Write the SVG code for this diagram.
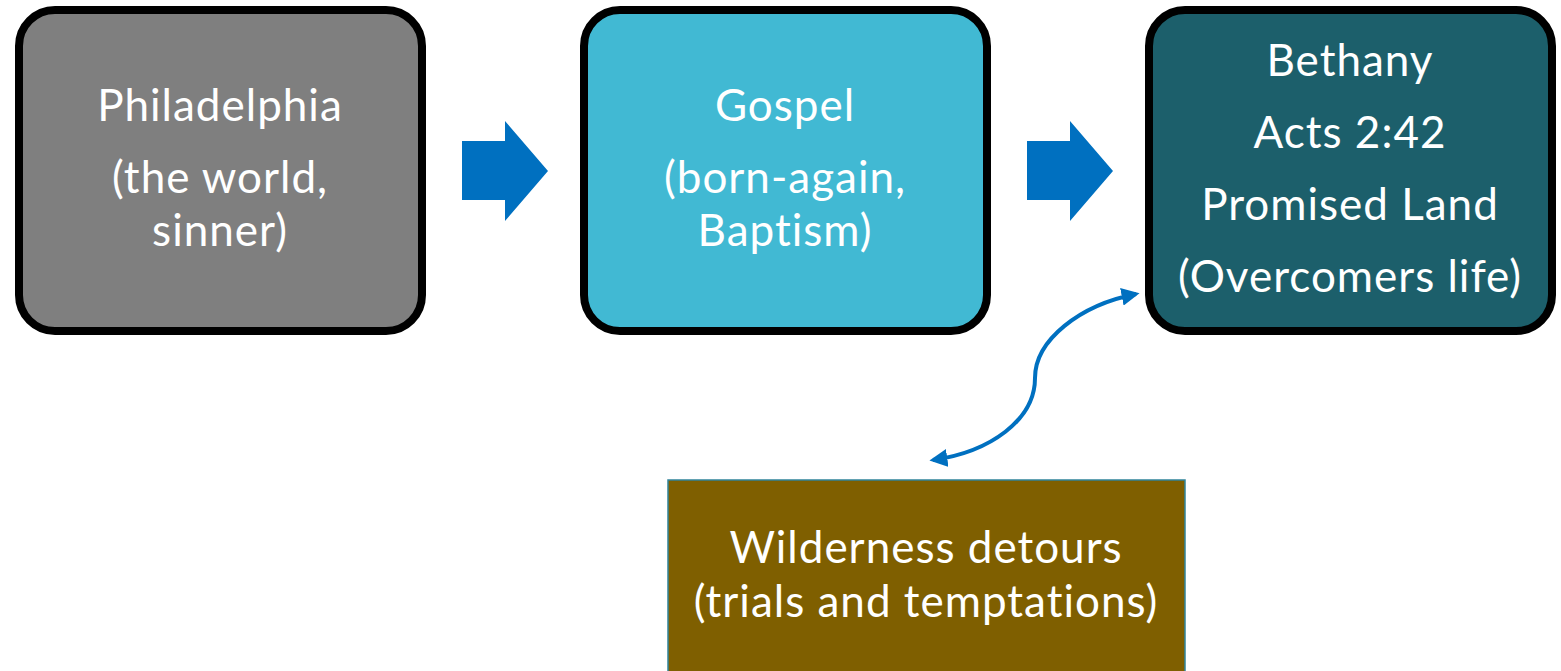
<svg xmlns="http://www.w3.org/2000/svg" width="1561" height="671" viewBox="0 0 1561 671">
<style>
.box{stroke:#000;stroke-width:8}
.t{font-family:Lato,"Open Sans",sans-serif;font-size:44px;letter-spacing:1px;fill:#fff;text-anchor:middle}
.fat{fill:#0070C0}
</style>
<defs>
<marker id="ah" viewBox="0 0 10 10" refX="8" refY="5" markerWidth="4.5" markerHeight="4.5" orient="auto-start-reverse" markerUnits="strokeWidth">
<path d="M0 0 L10 5 L0 10 Z" fill="#0070C0"/>
</marker>
</defs>
<rect width="1561" height="671" fill="#fff"/>
<g id="philadelphia">
<rect class="box" x="19" y="10" width="403" height="321" rx="36" fill="#7F7F7F"/>
<text class="t" x="220" y="121">Philadelphia</text>
<text class="t" x="220" y="193">(the world,</text>
<text class="t" x="220" y="246">sinner)</text>
</g>
<g id="gospel">
<rect class="box" x="584" y="10" width="403" height="321" rx="36" fill="#41B9D3"/>
<text class="t" x="785" y="121">Gospel</text>
<text class="t" x="785" y="193">(born-again,</text>
<text class="t" x="785" y="246">Baptism)</text>
</g>
<g id="bethany">
<rect class="box" x="1149" y="10" width="403" height="321" rx="36" fill="#1C5F6B"/>
<text class="t" x="1350" y="76">Bethany</text>
<text class="t" x="1350" y="148">Acts 2:42</text>
<text class="t" x="1350" y="220">Promised Land</text>
<text class="t" x="1350" y="292">(Overcomers life)</text>
</g>
<g id="wilderness">
<rect x="668" y="480" width="517" height="200" fill="#7F5F00" stroke="#31849B" stroke-width="1.5"/>
<text class="t" x="926" y="563">Wilderness detours</text>
<text class="t" x="926" y="617">(trials and temptations)</text>
</g>
<g id="connectors">
<polygon class="fat" points="462,141 505,141 505,121 548,171 505,221 505,200 462,200"/>
<polygon class="fat" points="1027,141 1070,141 1070,121 1113,171 1070,221 1070,200 1027,200"/>
<path d="M1136 294 C1080 305 1035 340 1035 378 C1035 420 990 452 933 460" fill="none" stroke="#0070C0" stroke-width="4" marker-start="url(#ah)" marker-end="url(#ah)"/>
</g>
</svg>
